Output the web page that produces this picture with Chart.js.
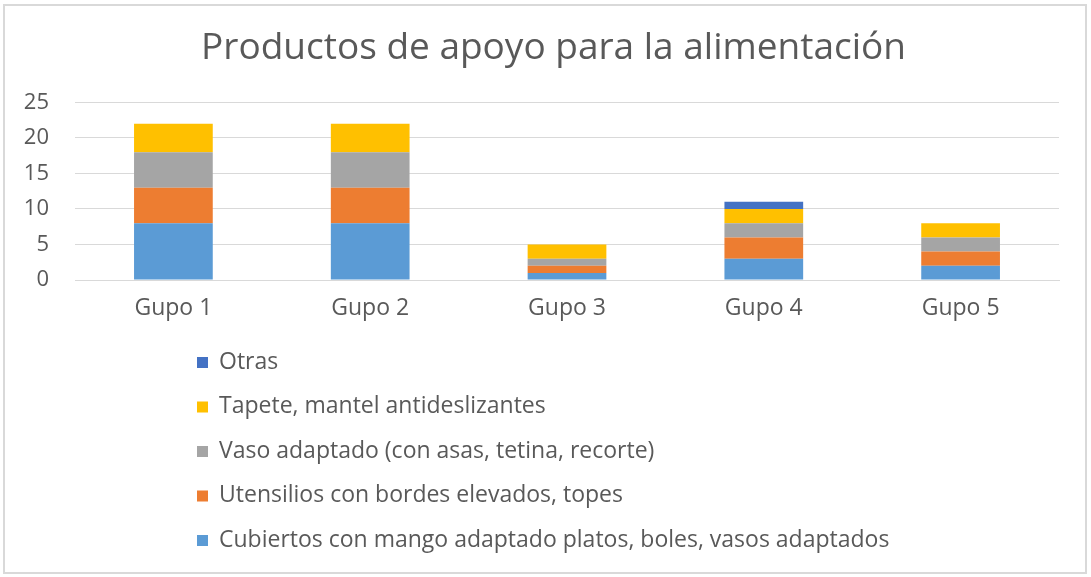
<!DOCTYPE html>
<html>
<head>
<meta charset="utf-8">
<script src="https://cdn.jsdelivr.net/npm/chart.js@4/dist/chart.umd.min.js"></script>
<style>
  html, body { margin: 0; padding: 0; background: #fff; }
  #wrap { position: relative; width: 1091px; height: 577px; }
  #frame { position: absolute; left: 3px; top: 4px; width: 1084px; height: 570px; border: 2px solid #d9d9d9; box-sizing: border-box; pointer-events: none; }
  canvas { position: absolute; left: 0; top: 0; }
</style>
</head>
<body>
<div id="wrap">
  <canvas id="c" width="1091" height="577"></canvas>
  <div id="frame"></div>
</div>
<script>
const title = "Productos de apoyo para la alimentación";
const categories = ["Gupo 1", "Gupo 2", "Gupo 3", "Gupo 4", "Gupo 5"];
const seriesNames = [
  "Cubiertos con mango adaptado platos, boles, vasos adaptados",
  "Utensilios con bordes elevados, topes",
  "Vaso adaptado (con asas, tetina, recorte)",
  "Tapete, mantel antideslizantes",
  "Otras"
];
const cubiertos = [8, 8, 1, 3, 2];
const utensilios = [5, 5, 1, 3, 2];
const vaso = [5, 5, 1, 2, 2];
const tapete = [4, 4, 2, 2, 2];
const otras = [0, 0, 0, 1, 0];
const yTicks = [0, 5, 10, 15, 20, 25];

const colors = ["#5B9BD5", "#ED7D31", "#A5A5A5", "#FFC000", "#4472C4"];
const values = [cubiertos, utensilios, vaso, tapete, otras];
const FONT = "'Open Sans', sans-serif";
const TXT = "#595959";

const legendPlugin = {
  id: "vlegend",
  afterLayout(chart) {
    // centre the title over the plot area, as in the reference
    const tb = chart.titleBlock;
    if (tb) {
      const shift = 13;
      tb.left += shift; tb.right += shift;
    }
  },
  afterDraw(chart) {
    const ctx = chart.ctx;
    const ds = chart.data.datasets;
    const x0 = 197, y0 = 362, step = 44.5;
    ctx.save();
    ctx.font = "23px " + FONT;
    ctx.textBaseline = "middle";
    ctx.textAlign = "left";
    for (let i = ds.length - 1, r = 0; i >= 0; i--, r++) {
      const y = y0 + r * step;
      ctx.fillStyle = ds[i].backgroundColor;
      ctx.fillRect(x0, y - 5, 11, 11);
      ctx.fillStyle = TXT;
      ctx.fillText(ds[i].label, x0 + 22, y);
    }
    ctx.restore();
  }
};

new Chart(document.getElementById("c"), {
  type: "bar",
  data: {
    labels: categories,
    datasets: seriesNames.map((n, i) => ({
      label: n,
      data: values[i],
      backgroundColor: colors[i],
      borderWidth: 0,
      categoryPercentage: 1,
      barPercentage: 0.4
    }))
  },
  plugins: [legendPlugin],
  options: {
    responsive: false,
    animation: false,
    devicePixelRatio: 1,
    layout: { padding: { left: 22, right: 32, top: 10, bottom: 255 } },
    plugins: {
      legend: { display: false },
      tooltip: { enabled: false },
      title: {
        display: true,
        text: title,
        color: TXT,
        font: { family: FONT, size: 37, weight: "normal" },
        padding: { top: 16, bottom: 32 }
      }
    },
    scales: {
      x: {
        stacked: true,
        grid: { display: false, drawTicks: false },
        border: { display: true, color: "#d9d9d9", width: 1 },
        ticks: { color: TXT, font: { family: FONT, size: 23 }, padding: 15 },
        afterFit(axis) { axis.height = 42; }
      },
      y: {
        stacked: true,
        min: 0, max: 25,
        afterBuildTicks(axis) { axis.ticks = yTicks.map(v => ({ value: v })); },
        grid: { color: "#d9d9d9", lineWidth: 1, drawTicks: false },
        border: { display: false },
        ticks: { color: TXT, font: { family: FONT, size: 22 }, padding: 26 },
        afterFit(axis) { axis.width = 53; }
      }
    }
  }
});
</script>
</body>
</html>
